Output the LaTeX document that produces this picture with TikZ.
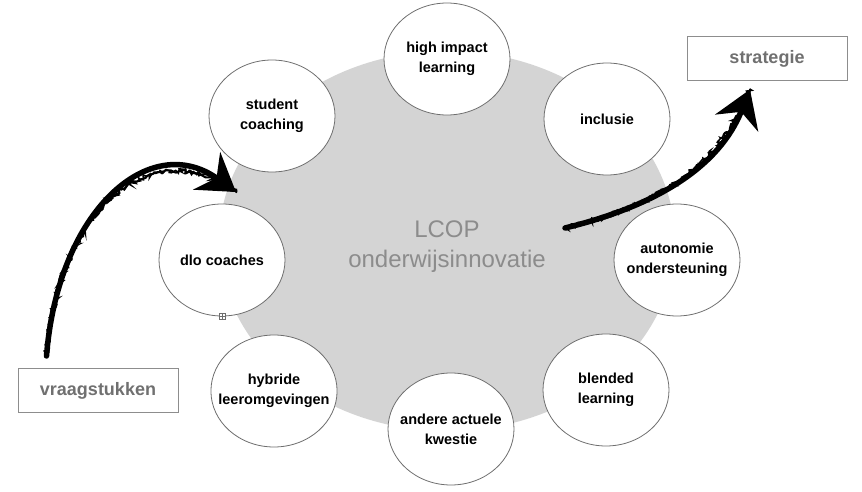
\documentclass[tikz,border=0pt]{standalone}
\usepackage{fontspec}
\setsansfont{Liberation Sans}
\usetikzlibrary{shapes.geometric, arrows.meta, positioning, decorations.pathmorphing}
\definecolor{lcopgrey}{RGB}{212,212,212}
\definecolor{rimgrey}{RGB}{110,110,110}
\definecolor{labelgrey}{RGB}{112,112,112}
\definecolor{coregrey}{RGB}{140,140,140}

\begin{document}
\begin{tikzpicture}[x=1pt, y=-1pt,
	topic/.style={ellipse, draw=rimgrey, line width=.8pt, fill=white, minimum width=126pt, minimum height=112pt, inner xsep=-11pt, inner ysep=0pt, align=center, font=\sffamily\bfseries\fontsize{14.5}{20}\selectfont},
	frame/.style={rectangle, draw=labelgrey!80, line width=1pt, fill=white, minimum width=160pt, minimum height=44pt, font=\sffamily\bfseries\fontsize{18}{22}\selectfont, text=labelgrey},
	chalk/.style={line width=5.5pt, line cap=round, -{Stealth[length=36pt, width=46pt, inset=12pt]},
		postaction={draw, decorate, decoration={random steps, segment length=2pt, amplitude=2.6pt}, line width=1.6pt, -},
		postaction={draw, decorate, decoration={random steps, segment length=3pt, amplitude=2pt}, line width=2pt, -}},
	handle/.style={rectangle, draw=rimgrey, line width=.5pt, fill=white, minimum size=6pt, inner sep=0pt},
	]
	\useasboundingbox (0,0) rectangle (862,492);
	
	% Background
	\node (core) [ellipse, fill=lcopgrey, inner sep=0pt, minimum width=456pt, minimum height=380pt] at (447,241) {};
	\node (lcop) [align=center, text=coregrey, font=\sffamily\fontsize{24}{30}\selectfont] at (447,247) {LCOP\\onderwijsinnovatie};
	
	% Nodes
	\node (impact) [topic] at (447,59) {high impact\\learning};
	\node (coaching) [topic] at (272,116) {student\\coaching};
	\node (inclusie) [topic] at (607,119) {inclusie};
	\node (autonomie) [topic] at (677,260) {autonomie\\ondersteuning};
	\node (blended) [topic] at (606,390) {blended\\learning};
	\node (actueel) [topic] at (451,429) {andere actuele\\kwestie};
	\node (hybride) [topic] at (274,391) {hybride\\leeromgevingen};
	\node (dlo) [topic] at (222,260) {dlo coaches};
	\node (hdl) [handle] at (dlo.south) {};
	\draw[rimgrey, line width=.5pt] (hdl.north) -- (hdl.south) (hdl.west) -- (hdl.east);
	
	\node (vraag) [frame] at (98,390.5) {vraagstukken};
	\node (strat) [frame] at (767,59) {strategie};
	
	% Arrows
	\coordinate (in1) at (236,192);
	\coordinate (out1) at (565,228);
	\draw[chalk] ([xshift=29pt, yshift=12pt]vraag.north west) .. controls (58,210) and (150,130) .. (in1);
	\draw[chalk] (out1) .. controls (660,205) and (720,165) .. ([xshift=-17pt, yshift=-8pt]strat.south);
\end{tikzpicture}
\end{document}
